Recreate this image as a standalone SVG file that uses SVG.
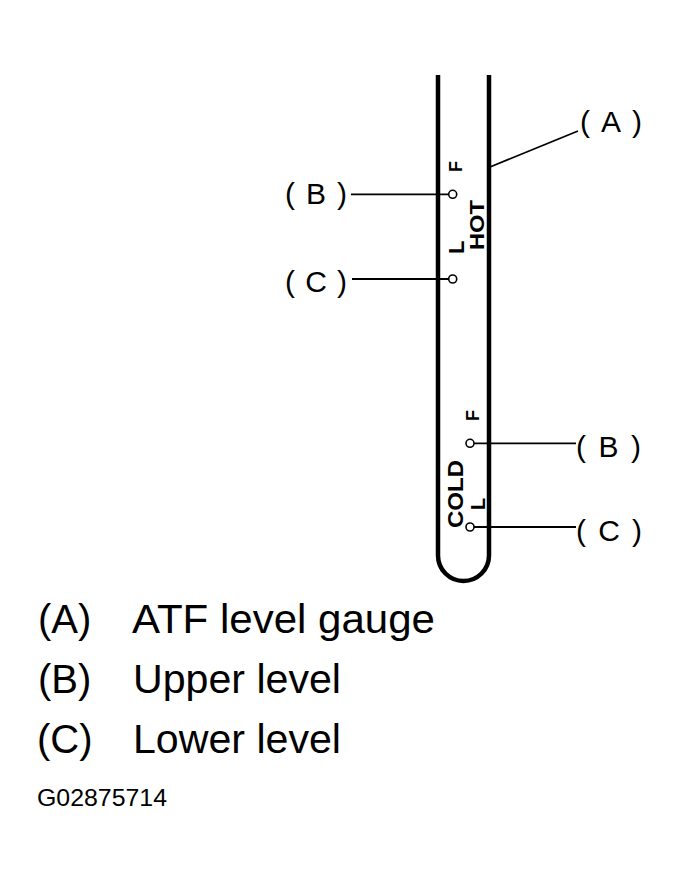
<svg xmlns="http://www.w3.org/2000/svg" width="679" height="880" viewBox="0 0 679 880">
<style>
.ln{fill:none;stroke:#000;stroke-width:1.8}
.tube{fill:none;stroke:#000;stroke-width:4.5}
.dot{fill:#fff;stroke:#000;stroke-width:1.6}
.lbl{font-family:"Liberation Sans",Arial,sans-serif;font-size:30px;fill:#000}
.leg{font-family:"Liberation Sans",Arial,sans-serif;font-size:40px;fill:#000}
.mk{font-family:"Liberation Sans",Arial,sans-serif;font-weight:bold;fill:#000}
.mkn{font-family:"Liberation Sans",Arial,sans-serif;fill:#000}
</style>
<rect width="679" height="880" fill="#fff"/>
<g id="gauge">
<path class="tube" d="M438,75 V555.5 A25.5,25.5 0 0 0 489,555.5 V75"/>
<text class="mk" font-size="18" transform="translate(462,172) rotate(-90)">F</text>
<text class="mk" font-size="21" textLength="50" lengthAdjust="spacingAndGlyphs" transform="translate(484,250) rotate(-90)">HOT</text>
<text class="mk" font-size="22" transform="translate(464,254) rotate(-90)">L</text>
<text class="mk" font-size="18" transform="translate(479,421) rotate(-90)">F</text>
<text class="mk" font-size="22" textLength="68" lengthAdjust="spacingAndGlyphs" transform="translate(463,528) rotate(-90)">COLD</text>
<text class="mk" font-size="20" transform="translate(485,510) rotate(-90)">L</text>
</g>
<g id="connectors">
<line class="ln" x1="490" y1="167" x2="578" y2="131"/>
<line class="ln" x1="351" y1="194.3" x2="448.7" y2="194.3"/>
<line class="ln" x1="352" y1="279" x2="448.7" y2="279"/>
<line class="ln" x1="474" y1="443.3" x2="576" y2="443.3"/>
<line class="ln" x1="474" y1="527" x2="576" y2="527"/>
<circle class="dot" cx="452.7" cy="194.3" r="4"/>
<circle class="dot" cx="452.7" cy="279" r="4"/>
<circle class="dot" cx="470" cy="443.3" r="4"/>
<circle class="dot" cx="470" cy="527" r="4"/>
</g>
<g id="label-A"><text class="lbl" x="580" y="132" textLength="62" lengthAdjust="spacing">( A )</text></g>
<g id="label-B-hot"><text class="lbl" x="285" y="203.5" textLength="62" lengthAdjust="spacing">( B )</text></g>
<g id="label-C-hot"><text class="lbl" x="285" y="291.5" textLength="62" lengthAdjust="spacing">( C )</text></g>
<g id="label-B-cold"><text class="lbl" x="576" y="456.7" textLength="65" lengthAdjust="spacing">( B )</text></g>
<g id="label-C-cold"><text class="lbl" x="576" y="541" textLength="66" lengthAdjust="spacing">( C )</text></g>
<g id="legend">
<text class="leg" x="38" y="633">(A)</text>
<text class="leg" x="132" y="633" textLength="303" lengthAdjust="spacingAndGlyphs">ATF level gauge</text>
<text class="leg" x="38" y="693">(B)</text>
<text class="leg" x="133" y="693" textLength="208" lengthAdjust="spacingAndGlyphs">Upper level</text>
<text class="leg" x="37" y="753">(C)</text>
<text class="leg" x="133" y="753" textLength="208" lengthAdjust="spacingAndGlyphs">Lower level</text>
<text class="mkn" font-size="24" x="37" y="806" textLength="130" lengthAdjust="spacingAndGlyphs">G02875714</text>
</g>
</svg>
